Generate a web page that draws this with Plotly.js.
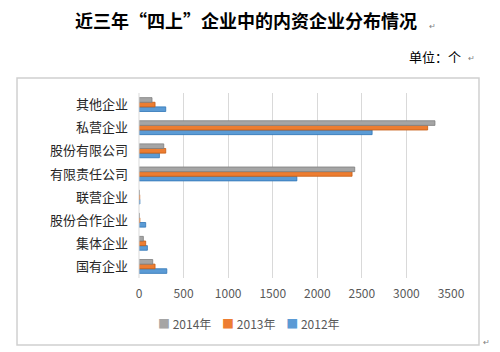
<!DOCTYPE html>
<html>
<head>
<meta charset="utf-8">
<script src="https://cdn.plot.ly/plotly-3.0.1.min.js"></script>
<style>html,body{margin:0;padding:0;background:#fff;}#chart{width:500px;height:352px;}</style>
</head>
<body>
<div id="chart"></div>
<script>
// Categories, listed bottom to top
const categories = ["国有企业", "集体企业", "股份合作企业", "联营企业", "有限责任公司", "股份有限公司", "私营企业", "其他企业"];
const years = ["2012年", "2013年", "2014年"];
const values2012 = [312, 94, 75, 10, 1771, 229, 2615, 300];
const values2013 = [180, 75, 10, 8, 2390, 300, 3238, 180];
const values2014 = [154, 49, 5, 5, 2420, 278, 3320, 146];
const xTicks = [0, 500, 1000, 1500, 2000, 2500, 3000, 3500];

const colors = ["#5B9BD5", "#ED7D31", "#A5A5A5"];
const lineColors = ["#2E75B6", "#C55A11", "#7F7F7F"];
const series = [values2012, values2013, values2014];

const traces = series.map((vals, i) => ({
  type: "bar",
  orientation: "h",
  name: years[i],
  y: categories,
  x: vals,
  marker: { color: colors[i], line: { color: lineColors[i], width: 0.8 } },
  hoverinfo: "skip"
}));

const font = "'Noto Sans CJK SC', 'Microsoft YaHei', sans-serif";

// Legend text built from the series names (2014, 2013, 2012 order)
const legendText = [2, 1, 0].map(i =>
  `<span style="color:${colors[i]}">■</span> ${years[i]}`).join("    ");

const layout = {
  width: 500, height: 352,
  margin: { l: 139, r: 49, t: 93, b: 74 },
  paper_bgcolor: "#fff", plot_bgcolor: "#fff",
  barmode: "group", bargap: 0.4, bargroupgap: 0,
  font: { family: font, color: "#404040" },
  title: {
    text: "<b>近三年“四上”企业中的内资企业分布情况</b>",
    font: { family: font, size: 18, color: "#000" },
    x: 0.492, xanchor: "center", xref: "container",
    y: 0.937, yanchor: "middle", yref: "container"
  },
  xaxis: {
    range: [0, 3500], tickvals: xTicks, ticktext: xTicks.map(String),
    showgrid: true, gridcolor: "#D9D9D9", gridwidth: 1,
    zeroline: false, showline: false, ticks: "",
    tickfont: { family: font, size: 12, color: "#595959" },
    ticklabelstandoff: 7, fixedrange: true
  },
  yaxis: {
    type: "category", categoryorder: "array", categoryarray: categories,
    showgrid: false, zeroline: false, showline: false, ticks: "",
    tickfont: { family: font, size: 13, color: "#262626" },
    ticklabelstandoff: 10, fixedrange: true
  },
  showlegend: false,
  shapes: [
    { type: "rect", xref: "paper", yref: "paper",
      x0: -0.391, x1: 1.0897, y0: -0.362, y1: 1.081,
      line: { color: "#D0D0D0", width: 1.5 }, fillcolor: "rgba(0,0,0,0)", layer: "below" },
    { type: "line", xref: "paper", yref: "paper",
      x0: 0, x1: 0, y0: 0, y1: 1, line: { color: "#D9D9D9", width: 1 } }
  ],
  annotations: [
    { text: legendText, xref: "paper", yref: "paper",
      x: (249 - 139) / 312, xanchor: "center", y: (278 - 323) / 185, yanchor: "middle",
      showarrow: false, font: { family: font, size: 12, color: "#595959" } },
    { text: "单位：个", xref: "paper", yref: "paper",
      x: (463 - 139) / 312, xanchor: "right", y: (278 - 56) / 185, yanchor: "middle",
      showarrow: false, font: { family: font, size: 13, color: "#000" } },
    { text: "↵", xref: "paper", yref: "paper",
      x: (466 - 139) / 312, xanchor: "left", y: (278 - 57) / 185, yanchor: "middle",
      showarrow: false, font: { family: font, size: 8, color: "#808080" } },
    { text: "↵", xref: "paper", yref: "paper",
      x: (427 - 139) / 312, xanchor: "left", y: (278 - 25) / 185, yanchor: "middle",
      showarrow: false, font: { family: font, size: 8, color: "#808080" } },
    { text: "↵", xref: "paper", yref: "paper",
      x: (481 - 139) / 312, xanchor: "left", y: (278 - 341) / 185, yanchor: "middle",
      showarrow: false, font: { family: font, size: 8, color: "#808080" } }
  ]
};

Plotly.newPlot("chart", traces, layout, { displayModeBar: false, staticPlot: true });
</script>
</body>
</html>
